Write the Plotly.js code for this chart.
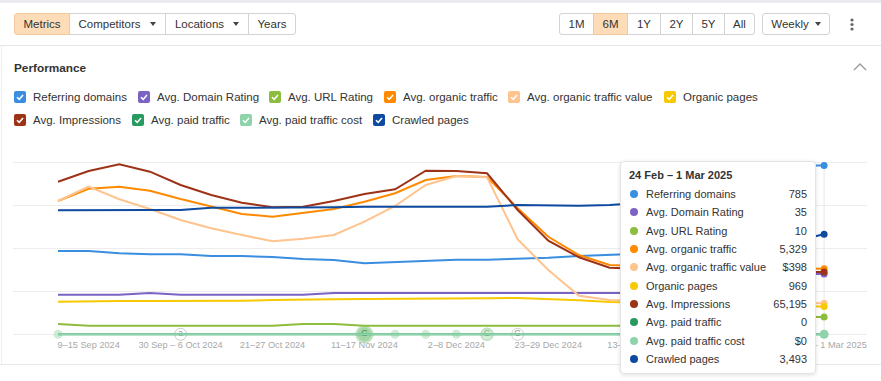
<!DOCTYPE html>
<html><head><meta charset="utf-8">
<script src="https://cdn.plot.ly/plotly-3.0.1.min.js"></script>
<style>
body{margin:0;width:881px;height:381px;background:#fff;font-family:"Liberation Sans",Arial,sans-serif;color:#333;position:relative;overflow:hidden;}
.btn{position:absolute;top:13px;height:22px;box-sizing:border-box;border:1px solid #d3d3d3;background:#fff;font-size:11.5px;line-height:20px;color:#333;text-align:center;white-space:nowrap;}
.on{background:#fedcb8;border-color:#f3c89c;z-index:2;}
.caret{display:inline-block;width:0;height:0;border-left:3.5px solid transparent;border-right:3.5px solid transparent;border-top:4px solid #444;vertical-align:middle;margin-left:9px;margin-top:-2px;}
.lg{position:absolute;font-size:11.5px;color:#333;white-space:nowrap;height:14px;line-height:14px;}
.cb{position:absolute;left:0;top:1px;width:12px;height:12px;border-radius:2px;}
.lg span{position:absolute;left:19px;top:0;}
#chart{position:absolute;left:0;top:140px;width:881px;height:230px;}
#tip{position:absolute;left:620px;top:161px;width:196px;height:213px;box-sizing:border-box;background:#fff;border:1px solid #e4e4e4;border-radius:4px;box-shadow:0 1px 4px rgba(0,0,0,0.13);z-index:10;font-size:11px;}
.tr{position:absolute;left:0;width:194px;height:14px;line-height:14px;}
.tr i{position:absolute;left:9px;top:3px;width:8px;height:8px;border-radius:50%;}
.tr span{position:absolute;left:25px;top:0;color:#333;}
.tr b{position:absolute;right:8px;top:0;font-weight:normal;color:#333;}
</style></head>
<body>
<div style="position:absolute;left:0;top:0;width:881px;height:3px;background:#e9ebee"></div>
<div class="btn on" style="left:14px;width:56px;border-radius:3px 0 0 3px">Metrics</div>
<div class="btn" style="left:69px;width:97px;border-left:none">Competitors<span class="caret"></span></div>
<div class="btn" style="left:165px;width:84px">Locations<span class="caret"></span></div>
<div class="btn" style="left:248px;width:48px;border-radius:0 3px 3px 0">Years</div>
<div class="btn" style="left:559px;width:35px;border-radius:3px 0 0 3px">1M</div>
<div class="btn on" style="left:593px;width:35px">6M</div>
<div class="btn" style="left:627px;width:34px">1Y</div>
<div class="btn" style="left:660px;width:33px">2Y</div>
<div class="btn" style="left:692px;width:33px">5Y</div>
<div class="btn" style="left:724px;width:31px;border-radius:0 3px 3px 0">All</div>
<div class="btn" style="left:762px;width:68px;border-radius:3px">Weekly<span class="caret" style="margin-left:6px"></span></div>
<svg style="position:absolute;left:848px;top:16px" width="8" height="18"><circle cx="4" cy="4" r="1.6" fill="#666"/><circle cx="4" cy="8.5" r="1.6" fill="#666"/><circle cx="4" cy="13" r="1.6" fill="#666"/></svg>
<div style="position:absolute;left:0;top:45px;width:881px;height:1px;background:#e6e6e6"></div>
<div style="position:absolute;left:14px;top:61px;font-size:11.8px;font-weight:bold;color:#333">Performance</div>
<svg style="position:absolute;left:852px;top:61px" width="16" height="12"><polyline points="2,9 8,3 14,9" stroke="#9a9a9a" stroke-width="1.4" fill="none"/></svg>
<div id="legend"></div>
<div id="chart"></div>
<div id="tip"></div>
<div style="position:absolute;left:0;top:364px;width:881px;height:1px;background:#e8e8e8"></div>
<div style="position:absolute;left:1px;top:46px;width:1px;height:318px;background:#f0f0f0"></div>
<script>
// ---- data ----
const weeks = ['2–8 Sep 2024','9–15 Sep 2024','16–22 Sep 2024','23–29 Sep 2024','30 Sep – 6 Oct 2024','7–13 Oct 2024','14–20 Oct 2024','21–27 Oct 2024','28 Oct – 3 Nov 2024','4–10 Nov 2024','11–17 Nov 2024','18–24 Nov 2024','25 Nov – 1 Dec 2024','2–8 Dec 2024','9–15 Dec 2024','16–22 Dec 2024','23–29 Dec 2024','30 Dec – 5 Jan 2025','6–12 Jan 2025','13–19 Jan 2025','20–26 Jan 2025','27 Jan – 2 Feb 2025','3–9 Feb 2025','10–16 Feb 2025','17–23 Feb 2025','24 Feb – 1 Mar 2025'];
const labeledWeeks = ['9–15 Sep 2024','30 Sep – 6 Oct 2024','21–27 Oct 2024','11–17 Nov 2024','2–8 Dec 2024','23–29 Dec 2024','13–19 Jan 2025','3–9 Feb 2025','24 Feb – 1 Mar 2025'];
const referringDomains = [387,387,377,372,372,364,364,360,350,346,330,335,342,347,347,350,356,364,370,375,380,400,620,770,785,785];
const avgDomainRating = [23,23,23,24,23,23,23,23,23,24,24,24,24,24,24,24,24,24,24,24,24,28,34,35,35,35];
const avgUrlRating = [6,5,5,5,5,5,5,5,6,6,5,5,5,5,5,5,5,5,5,5,5,8,10,10,10,10];
const avgOrganicTraffic = [10850,11850,12010,11690,11010,10390,9790,9570,9900,10200,10790,11480,12560,12890,12800,10260,7940,6450,5640,5560,5480,5420,5390,5360,5335,5329];
const avgOrganicTrafficValue = [1705,1888,1727,1603,1462,1356,1270,1190,1223,1270,1440,1641,1910,2025,2008,1215,822,494,439,430,420,412,405,400,399,398];
const organicPages = [1137,1161,1161,1161,1161,1161,1172,1196,1221,1221,1231,1231,1242,1256,1256,1266,1231,1186,1127,1100,1070,1040,1010,990,975,969];
const avgImpressions = [159700,170900,177900,170200,156200,145800,137700,132900,133500,139500,146800,151700,171200,170900,168500,130100,98000,80600,69700,68300,67300,66200,65700,65200,65200,65195];
const avgPaidTraffic = [0,0,0,0,0,0,0,0,0,0,0,0,0,0,0,0,0,0,0,0,0,0,0,0,0,0];
const avgPaidTrafficCost = [0,0,0,0,0,0,0,0,0,0,0,0,0,0,0,0,0,0,0,0,0,0,0,0,0,0];
const crawledPages = [4325,4336,4336,4336,4336,4416,4416,4416,4416,4430,4451,4451,4451,4451,4451,4510,4486,4486,4510,4580,4580,4597,3700,3450,3250,3493];
const seriesNames = ['Referring domains','Avg. Domain Rating','Avg. URL Rating','Avg. organic traffic','Avg. organic traffic value','Organic pages','Avg. Impressions','Avg. paid traffic','Avg. paid traffic cost','Crawled pages'];
const eventWeeks = ['2–8 Sep 2024','30 Sep – 6 Oct 2024','11–17 Nov 2024','18–24 Nov 2024','25 Nov – 1 Dec 2024','2–8 Dec 2024','9–15 Dec 2024','16–22 Dec 2024'];
const eventLabels = ['','a','G','','','','G','G'];

// ---- styling / config ----
const seriesData = [referringDomains,avgDomainRating,avgUrlRating,avgOrganicTraffic,avgOrganicTrafficValue,organicPages,avgImpressions,avgPaidTraffic,avgPaidTrafficCost,crawledPages];
const colors = ['#3a8ee0','#7b63c5','#8dbd3e','#ff8a00','#ffc38e','#f7c900','#9e3216','#279a5f','#8fd3ab','#0d4aa0'];
const axisTop = [800,100,100,14000,2200,6000,180000,1,1,6000]; // value at top gridline
const prefix = ['','','','','$','','','','$',''];
const GRID = 172, PX_LO = -3.7, PX_HI = 184.3;
const legendPos = [[14,90],[138,90],[269,90],[384,90],[508,90],[664,90],[14,113],[132,113],[240,113],[373,113]];

// legend
const lg = document.getElementById('legend');
seriesNames.forEach((n,i)=>{
  const d = document.createElement('div'); d.className='lg';
  d.style.left = legendPos[i][0]+'px'; d.style.top = legendPos[i][1]+'px';
  d.innerHTML = '<div class="cb" style="background:'+colors[i]+'"><svg width="12" height="12"><polyline points="3,6.2 5.2,8.4 9,3.9" stroke="#fff" stroke-width="1.6" fill="none"/></svg></div><span>'+n+'</span>';
  lg.appendChild(d);
});

// tooltip
const tip = document.getElementById('tip');
const last = weeks.length-1;
let th = '<div style="position:absolute;left:8px;top:7px;font-weight:bold;font-size:11px;color:#333">'+weeks[last]+'</div>';
seriesNames.forEach((n,i)=>{
  const v = seriesData[i][last];
  th += '<div class="tr" style="top:'+(25+i*18.35)+'px"><i style="background:'+colors[i]+'"></i><span>'+n+'</span><b>'+prefix[i]+v.toLocaleString('en-US')+'</b></div>';
});
tip.innerHTML = th;

// chart
const traces = [];
const order = [7,8,2,5,1,0,9,4,6,3];
const layout = {
  width:881, height:230,
  margin:{l:13,r:14,t:10,b:32},
  paper_bgcolor:'rgba(0,0,0,0)', plot_bgcolor:'rgba(0,0,0,0)',
  showlegend:false,
  xaxis:{type:'category', range:[-1.469,26.40], tickmode:'array', tickvals:labeledWeeks, ticks:'', showgrid:false, zeroline:false, showline:false, tickfont:{family:'Liberation Sans, Arial, sans-serif', size:9.2, color:'#a8a8a8'}, fixedrange:true},
  yaxis:{range:[PX_LO/GRID*4, PX_HI/GRID*4], tickvals:[0,1,2,3,4], showticklabels:false, gridcolor:'#ededed', gridwidth:1, zeroline:false, showline:false, fixedrange:true},
  shapes:[{type:'line', xref:'x', yref:'y', x0:last, x1:last, y0:0, y1:4, line:{color:'#e6e6e6', width:1}, layer:'below'}]
};
seriesData.forEach((d,i)=>{
  const ax = 'yaxis'+(i+2);
  layout[ax] = {overlaying:'y', visible:false, range:[axisTop[i]*PX_LO/GRID, axisTop[i]*PX_HI/GRID], fixedrange:true};
});
order.forEach(i=>{
  traces.push({type:'scatter', mode:'lines', x:weeks, y:seriesData[i], yaxis:'y'+(i+2), line:{color:colors[i], width:2}, hoverinfo:'skip'});
});
// events on the baseline
const evSize = [9,12,16,9,9,9,12,12];
const evFill = ['#b9e3c4','#ffffff','#7dc47f','#b9e3c4','#b9e3c4','#b9e3c4','#c6e7c9','#ffffff'];
const evLine = ['#b9e3c4','#b5b5b5','#a6d8a8','#b9e3c4','#b9e3c4','#b9e3c4','#a3d5a7','#bdbdbd'];
const evText = ['#999','#999','#4e9a52','#999','#999','#999','#79b37e','#999'];
traces.push({type:'scatter', mode:'markers+text', x:eventWeeks, y:eventWeeks.map(()=>0), yaxis:'y',
  marker:{size:evSize, color:evFill, line:{color:evLine, width:[0,1,2,0,0,0,1.5,1]}},
  text:eventLabels, textposition:'middle center', textfont:{size:8.5, color:evText, family:'Liberation Sans, Arial'},
  cliponaxis:false, hoverinfo:'skip'});
// hover dots at last week
order.forEach(i=>{
  traces.push({type:'scatter', mode:'markers', x:[weeks[last]], y:[seriesData[i][last]], yaxis:'y'+(i+2),
    marker:{size: i===8?9:7, color:colors[i]}, cliponaxis:false, hoverinfo:'skip'});
});
Plotly.newPlot('chart', traces, layout, {displayModeBar:false, staticPlot:true});
</script>
</body></html>
